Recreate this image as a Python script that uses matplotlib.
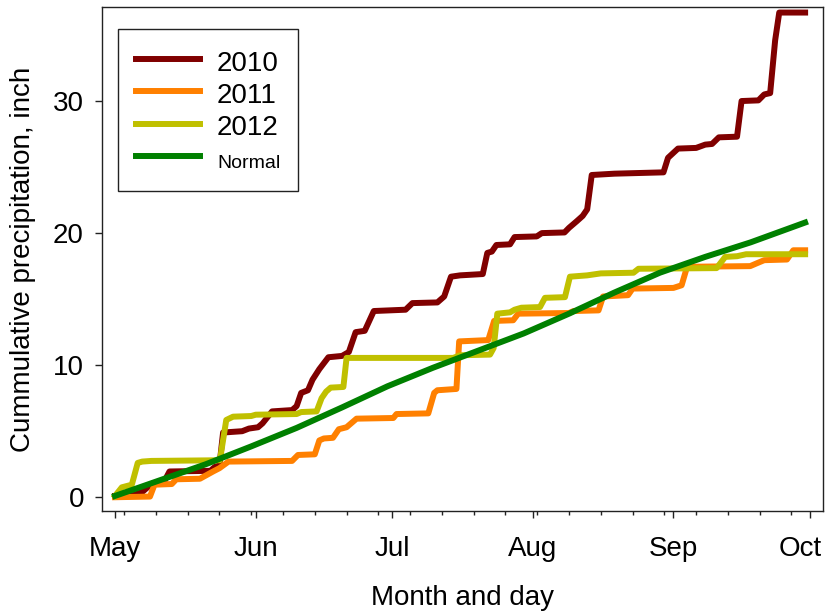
import matplotlib
matplotlib.use("Agg")
import matplotlib.pyplot as plt
from matplotlib.ticker import FixedLocator
from matplotlib.transforms import ScaledTranslation

plt.rcParams['font.family'] = ['Liberation Sans', 'DejaVu Sans']

# days since May 1 and cumulative precipitation (inch)
days_2010 = [0, 4, 6, 8, 11, 12, 21, 22, 23, 23.8, 28, 29.5, 31.5, 32.5, 34.6, 39, 40, 41, 42.5, 43.5,
             45, 47, 50, 51.5, 53, 55, 57, 64, 65.5, 71, 72.5, 74, 76, 81, 82, 83, 84, 87, 88, 92.9,
             94, 99, 100, 101.7, 103, 104, 105, 110, 120.8, 121.8, 124, 128, 130, 131.5, 133, 137, 138,
             141.7, 143, 144.3, 145.4, 146.3, 152]
prec_2010 = [0.1, 0.15, 0.4, 1.0, 1.3, 1.95, 2.0, 2.3, 2.4, 4.9, 5.0, 5.2, 5.3, 5.6, 6.5, 6.6, 6.9, 7.9, 8.1, 8.9,
             9.7, 10.6, 10.7, 11.0, 12.5, 12.6, 14.1, 14.2, 14.7, 14.75, 15.2, 16.7, 16.8, 16.9, 18.5, 18.6,
             19.1, 19.15, 19.7, 19.75, 20.0, 20.05, 20.4, 20.9, 21.3, 21.8, 24.4, 24.5, 24.6, 25.7, 26.4,
             26.45, 26.7, 26.75, 27.25, 27.3, 30.0, 30.05, 30.5, 30.6, 34.6, 36.7, 36.7]

days_2011 = [0, 7.7, 8.7, 12.5, 13.5, 18.7, 21.6, 23, 25, 39, 40.3, 44, 45, 46, 48, 49.3, 51, 53.2, 61.3, 62,
             69, 70.3, 71, 75.2, 75.8, 82.2, 83.5, 87.7, 88.8, 100, 101, 106.5, 107.5, 113, 114, 123,
             124.8, 126, 139.9, 141.6, 143, 148, 149.4, 152]
prec_2011 = [0, 0.05, 0.95, 1.0, 1.36, 1.4, 1.95, 2.2, 2.7, 2.75, 3.2, 3.25, 4.3, 4.45, 4.5, 5.15, 5.3, 5.95,
             6.0, 6.3, 6.35, 7.9, 8.1, 8.2, 11.8, 11.9, 13.35, 13.4, 13.9, 13.95, 14.1, 14.15, 15.2, 15.3,
             15.8, 15.85, 16.05, 17.45, 17.5, 17.75, 17.95, 18.0, 18.7, 18.7]

days_2012 = [0, 1.5, 3.7, 5, 6, 8, 23.1, 24.5, 26, 30, 31, 40, 41, 44.4, 45.5, 46.5, 47.5, 50.3, 51, 74.5,
             76, 82.6, 83.4, 84.2, 87, 88, 89.5, 93.6, 94.7, 99.1, 100.2, 104, 107, 114.2, 115.3, 132.5,
             134.4, 137, 139, 152]
prec_2012 = [0.1, 0.75, 0.95, 2.6, 2.7, 2.75, 2.8, 5.85, 6.1, 6.15, 6.25, 6.3, 6.45, 6.5, 7.5, 8.0, 8.3, 8.35,
             10.55, 10.55, 10.75, 10.8, 11.3, 13.9, 14.0, 14.2, 14.35, 14.4, 15.1, 15.15, 16.7, 16.8, 16.95,
             17.0, 17.3, 17.35, 18.2, 18.25, 18.4, 18.4]

days_normal = [0, 10, 20, 30, 40, 50, 60, 70, 80, 90, 100, 110, 120, 130, 140, 152]
prec_normal = [0.1, 1.3, 2.5, 3.85, 5.25, 6.8, 8.4, 9.8, 11.1, 12.4, 13.9, 15.5, 17.0, 18.2, 19.3, 20.8]

month_days = [0, 31, 61, 92, 123, 153]
month_labels = ['May', 'Jun', 'Jul', 'Aug', 'Sep', 'Oct']
week_days = list(range(2, 153, 7))

fig = plt.figure(figsize=(8.29, 6.16), dpi=100)
ax = fig.add_axes([0.1227, 0.1705, 0.8704, 0.8177])

lw = 4.3
ax.plot(days_2010, prec_2010, color='#800000', lw=lw, label='2010')
ax.plot(days_2011, prec_2011, color='#ff8000', lw=lw, label='2011')
ax.plot(days_2012, prec_2012, color='#c0c000', lw=lw, label='2012')
ax.plot(days_normal, prec_normal, color='#008000', lw=lw, label='Normal')

ax.set_xlim(-2.93, 156)
ax.set_ylim(-1.04, 37.1)

ax.set_xticks(month_days)
ax.set_xticklabels(month_labels)
ax.xaxis.set_minor_locator(FixedLocator(week_days))
ax.set_yticks([0, 10, 20, 30])

ax.tick_params(which='major', direction='out', length=4.8, width=1, labelsize=20, color='#222222')
ax.tick_params(axis='x', which='major', pad=13)
ax.tick_params(axis='y', which='major', pad=8)
ax.tick_params(which='minor', direction='out', length=2.9, width=1, color='#222222')

# keep the last month label inside the picture
oct_lbl = ax.get_xticklabels()[-1]
oct_lbl.set_transform(oct_lbl.get_transform() + ScaledTranslation(-9 / 100, 0, fig.dpi_scale_trans))

for s in ax.spines.values():
    s.set_linewidth(1.0)
    s.set_color('#222222')

ax.set_xlabel('Month and day', fontsize=20, labelpad=17)
ax.set_ylabel('Cummulative precipitation, inch', fontsize=20, labelpad=12)

leg = ax.legend(loc='upper left', bbox_to_anchor=(0.023, 0.957), borderaxespad=0,
                fontsize=20, fancybox=False, edgecolor='#222222', framealpha=1,
                handlelength=2.3, handletextpad=0.6, borderpad=0.65, labelspacing=0.1,
                handleheight=1.2)
leg.get_frame().set_linewidth(1.0)
leg.get_texts()[3].set_fontsize(14)

fig.savefig('out.png', dpi=100)
